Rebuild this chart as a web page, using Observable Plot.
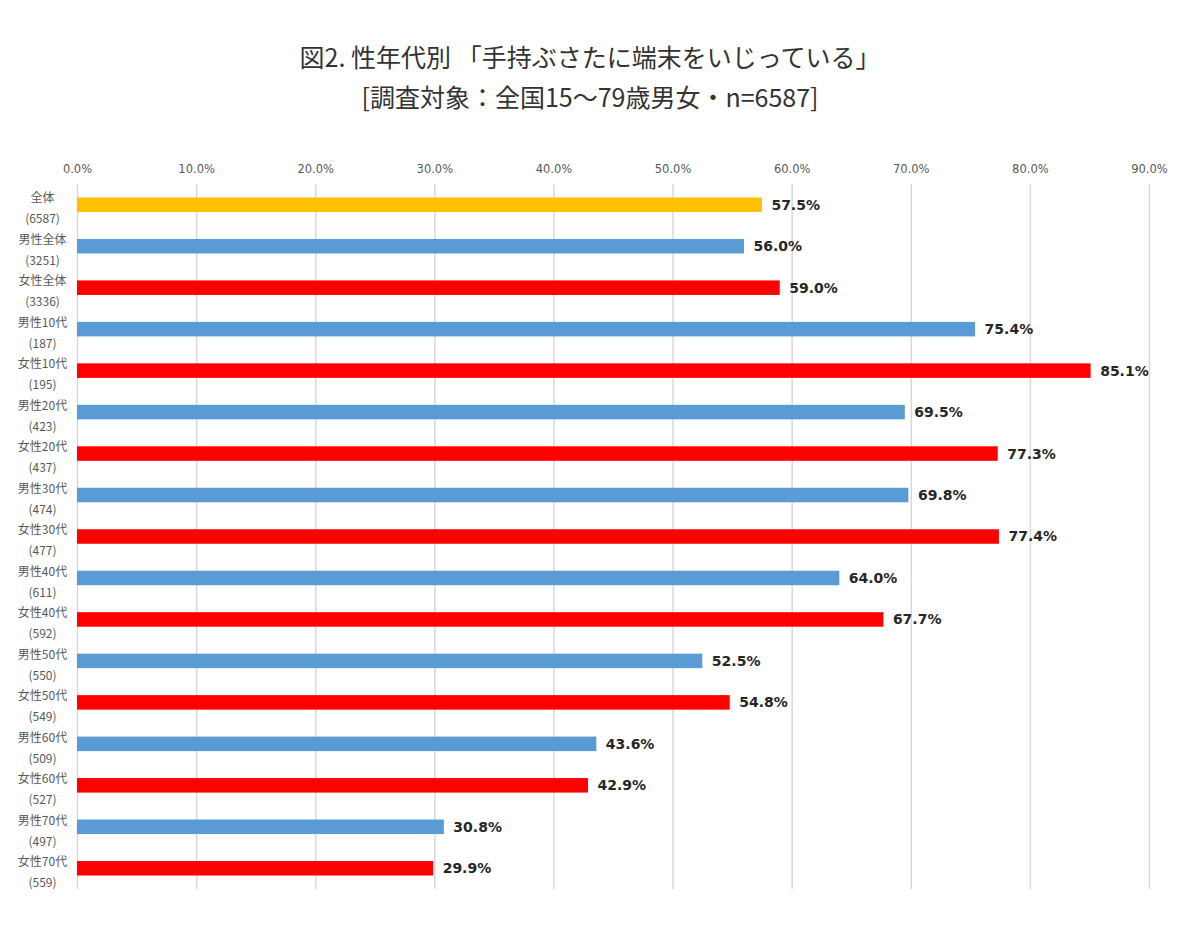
<!DOCTYPE html>
<html>
<head>
<meta charset="utf-8">
<script src="https://cdn.jsdelivr.net/npm/d3@7"></script>
<script src="https://cdn.jsdelivr.net/npm/@observablehq/plot@0.6"></script>
<style>
  html, body { margin: 0; padding: 0; background: #fff; }
  #title { width: 1200px; height: 130px; box-sizing: border-box; padding-top: 36px; text-align: center;
    font-family: "Noto Sans CJK JP", sans-serif; font-size: 25px; line-height: 40px; color: #333; }
  #title div { margin-left: -20px; }
  #chart svg { display: block; }
</style>
</head>
<body>
<div id="title">
  <div>図2. 性年代別 「手持ぶさたに端末をいじっている」</div>
  <div>[調査対象：全国15～79歳男女・n=6587]</div>
</div>
<div id="chart"></div>
<script>
const categories = ["全体","男性全体","女性全体","男性10代","女性10代","男性20代","女性20代","男性30代","女性30代","男性40代","女性40代","男性50代","女性50代","男性60代","女性60代","男性70代","女性70代"];
const sampleSizes = [6587,3251,3336,187,195,423,437,474,477,611,592,550,549,509,527,497,559];
const values = [57.5,56.0,59.0,75.4,85.1,69.5,77.3,69.8,77.4,64.0,67.7,52.5,54.8,43.6,42.9,30.8,29.9];
const groups = ["全体","男性","女性"];
const groupColors = ["#FFC000","#5B9BD5","#FF0000"];
const xTicks = [0,10,20,30,40,50,60,70,80,90];

const data = categories.map((c, i) => ({
  category: c,
  n: sampleSizes[i],
  value: values[i],
  group: c === "全体" ? "全体" : c.slice(0, 2)
}));
const nByCat = new Map(data.map(d => [d.category, d.n]));

const chart = Plot.plot({
  width: 1200,
  height: 799,
  marginTop: 54,
  marginBottom: 40,
  marginLeft: 77,
  marginRight: 51,
  x: {domain: [0, 90]},
  y: {domain: categories, paddingInner: 0.65, paddingOuter: 0.325, round: false},
  color: {domain: groups, range: groupColors},
  marks: [
    Plot.gridX(xTicks, {stroke: "#d9d9d9", strokeOpacity: 1, strokeWidth: 1.5}),
    Plot.axisX(xTicks, {anchor: "top", tickSize: 0, tickPadding: 12, label: null,
      tickFormat: d => d.toFixed(1) + "%", fontSize: 11.5, fill: "#595959",
      fontFamily: "DejaVu Sans, sans-serif"}),
    Plot.axisY({anchor: "left", tickSize: 0, tickPadding: 35, label: null, textAnchor: "middle",
      tickFormat: d => d + "\n(" + nByCat.get(d) + ")", lineHeight: 1.75, fontSize: 12, dy: 1,
      fill: "#595959", fontFamily: "Noto Sans CJK JP, sans-serif"}),
    Plot.barX(data, {y: "category", x: "value", fill: "group"}),
    Plot.text(data, {y: "category", x: "value", text: d => d.value.toFixed(1) + "%",
      textAnchor: "start", dx: 9, fontWeight: "bold", fontSize: 14, fill: "#262626",
      fontFamily: "DejaVu Sans, sans-serif"})
  ]
});
document.getElementById("chart").appendChild(chart);
</script>
</body>
</html>
